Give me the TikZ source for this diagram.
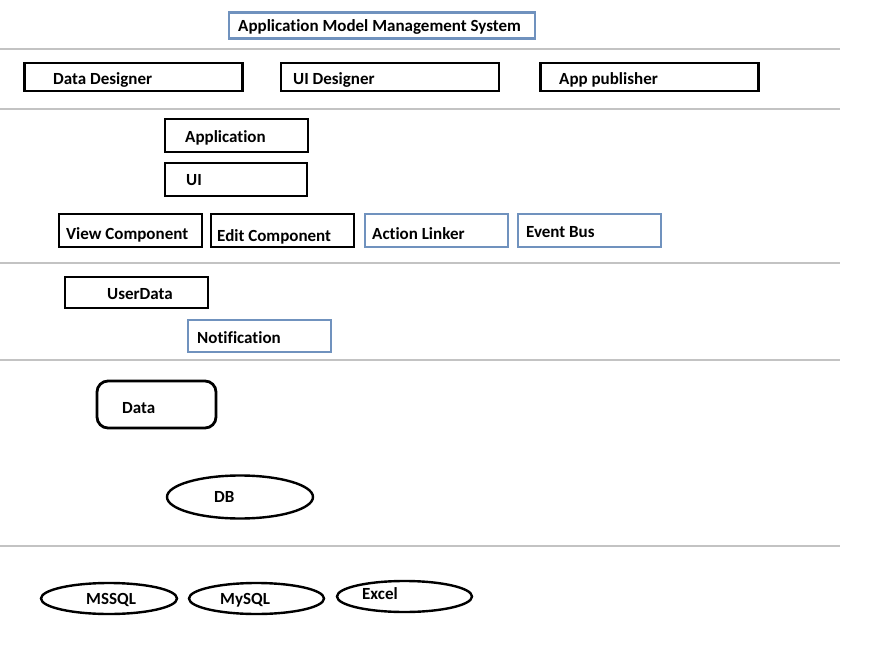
\documentclass[tikz,border=0pt]{standalone}
\usepackage{fontspec}
\setmainfont[Ligatures=NoCommon]{Carlito}
\usetikzlibrary{shapes.geometric}
\definecolor{boxblue}{RGB}{112,146,190}
\definecolor{linegrey}{RGB}{195,195,195}
\tikzset{
  blackbox/.style={draw=black,line width=2.8pt,rectangle,inner sep=0pt},
  bluebox/.style={draw=boxblue,line width=2.4pt,rectangle,inner sep=0pt},
  ovalbox/.style={draw=black,line width=2.4pt,ellipse,inner sep=0pt},
  lbl/.style={anchor=base west,inner sep=0pt,font=\bfseries\fontsize{17pt}{20pt}\selectfont},
  sep/.style={draw=linegrey,line width=2pt}
}

\begin{document}
\begin{tikzpicture}[x=1pt,y=-1pt]
  \useasboundingbox (0,0) rectangle (887,645);
  % Titel
  \node[bluebox,minimum width=306,minimum height=26] (title) at (382,25.5) {};
  \node[lbl] (titletext) at (238,31) {Application Model Management System};
  % Trennlinien
  \coordinate (s1a) at (0,49);  \coordinate (s1b) at (840,49);
  \coordinate (s2a) at (0,109); \coordinate (s2b) at (840,109);
  \coordinate (s3a) at (0,263); \coordinate (s3b) at (840,263);
  \coordinate (s4a) at (0,360); \coordinate (s4b) at (840,360);
  \coordinate (s5a) at (0,546); \coordinate (s5b) at (840,546);
  \draw[sep] (s1a) -- (s1b);
  \draw[sep] (s2a) -- (s2b);
  \draw[sep] (s3a) -- (s3b);
  \draw[sep] (s4a) -- (s4b);
  \draw[sep] (s5a) -- (s5b);
  % Werkzeuge
  \node[blackbox,minimum width=218,minimum height=28] (datadesigner) at (133.5,77) {};
  \node[lbl] (datadesignertext) at (53,84) {Data Designer};
  \node[blackbox,minimum width=218,minimum height=28] (uidesigner) at (390,77) {};
  \node[lbl] (uidesignertext) at (293,84) {UI Designer};
  \node[blackbox,minimum width=218,minimum height=28] (apppublisher) at (649.5,77) {};
  \node[lbl] (apppublishertext) at (559,84) {App publisher};
  % Anwendungsschicht
  \node[blackbox,minimum width=143,minimum height=33] (application) at (236.5,135.5) {};
  \node[lbl] (applicationtext) at (185,142) {Application};
  \node[blackbox,minimum width=142,minimum height=33] (ui) at (236,179.5) {};
  \node[lbl] (uitext) at (186,185) {UI};
  \node[blackbox,minimum width=143,minimum height=33] (viewcomp) at (130.5,230.5) {};
  \node[lbl] (viewcomptext) at (66,239) {View Component};
  \node[blackbox,minimum width=143,minimum height=33] (editcomp) at (282.5,230.5) {};
  \node[lbl] (editcomptext) at (217,241) {Edit Component};
  \node[bluebox,minimum width=143,minimum height=33] (actionlinker) at (436.5,230.5) {};
  \node[lbl] (actionlinkertext) at (372,239) {Action Linker};
  \node[bluebox,minimum width=143,minimum height=33] (eventbus) at (589.5,230.5) {};
  \node[lbl] (eventbustext) at (526,237) {Event Bus};
  % Benutzerdaten
  \node[blackbox,minimum width=143,minimum height=31] (userdata) at (136.5,292.5) {};
  \node[lbl] (userdatatext) at (107,299) {UserData};
  \node[bluebox,minimum width=143,minimum height=32] (notification) at (259.5,336) {};
  \node[lbl] (notificationtext) at (197,343) {Notification};
  % Daten
  \node[blackbox,rounded corners=11pt,minimum width=119,minimum height=47] (data) at (156.5,404.5) {};
  \node[lbl] (datatext) at (122,413) {Data};
  \node[ovalbox,minimum width=146,minimum height=43] (db) at (240,497) {};
  \node[lbl] (dbtext) at (214,502.5) {DB};
  % Quellen
  \node[ovalbox,minimum width=136,minimum height=31] (mssql) at (109,598.5) {};
  \node[lbl] (mssqltext) at (86,604) {MSSQL};
  \node[ovalbox,minimum width=135,minimum height=31] (mysql) at (256.5,598.5) {};
  \node[lbl] (mysqltext) at (220,604) {MySQL};
  \node[ovalbox,minimum width=135,minimum height=31] (excel) at (404.5,596.5) {};
  \node[lbl] (exceltext) at (362,599) {Excel};
\end{tikzpicture}
\end{document}
